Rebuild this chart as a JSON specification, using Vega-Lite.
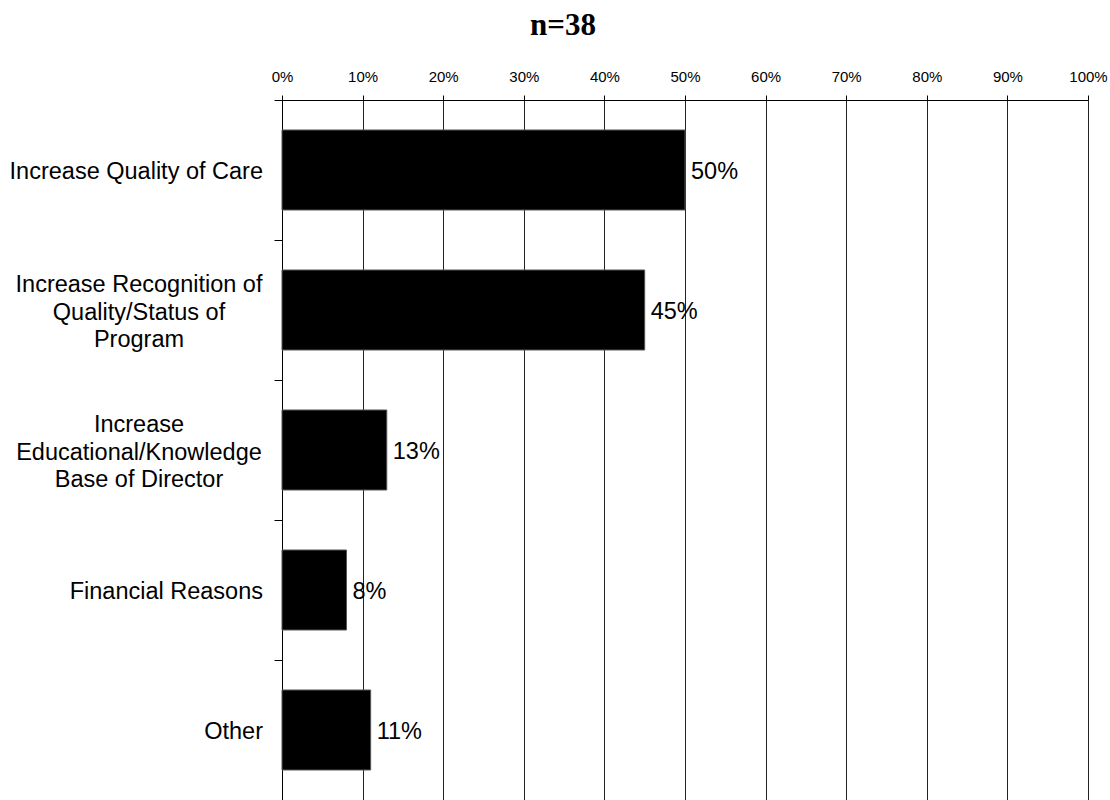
{
  "$schema": "https://vega.github.io/schema/vega-lite/v6.json",
  "width": 806,
  "height": 700,
  "autosize": {"type": "none"},
  "padding": {"left": 282, "top": 100, "right": 22, "bottom": 0},
  "background": "white",
  "title": {
    "text": "n=38",
    "font": "Liberation Serif",
    "fontSize": 31,
    "fontWeight": "bold",
    "color": "black",
    "anchor": "middle",
    "dx": -122,
    "offset": 27
  },
  "data": {
    "values": [
      {"reason": "Increase Quality of Care", "share": 0.50, "lines": 1},
      {"reason": "Increase Recognition of\nQuality/Status of\nProgram", "share": 0.45, "lines": 3},
      {"reason": "Increase\nEducational/Knowledge\nBase of Director", "share": 0.13, "lines": 3},
      {"reason": "Financial Reasons", "share": 0.08, "lines": 1},
      {"reason": "Other", "share": 0.11, "lines": 1}
    ]
  },
  "encoding": {
    "y": {
      "field": "reason",
      "type": "nominal",
      "sort": null,
      "scale": {"paddingInner": 0, "paddingOuter": 0},
      "axis": {
        "title": null,
        "orient": "left",
        "tickBand": "extent",
        "tickSize": 8,
        "tickColor": "black",
        "domainColor": "black",
        "labels": false
      }
    },
    "x": {
      "field": "share",
      "type": "quantitative",
      "scale": {"domain": [0, 1], "nice": false},
      "axis": {
        "title": null,
        "orient": "top",
        "values": [0, 0.1, 0.2, 0.3, 0.4, 0.5, 0.6, 0.7, 0.8, 0.9, 1],
        "format": ".0%",
        "tickSize": 5,
        "tickColor": "black",
        "domainColor": "black",
        "grid": true,
        "gridColor": "#222",
        "gridWidth": 1,
        "labelFont": "Liberation Sans",
        "labelFontSize": 15,
        "labelColor": "black",
        "labelPadding": 11,
        "labelFlush": false
      }
    }
  },
  "layer": [
    {
      "mark": {"type": "bar", "height": {"band": 0.5714}, "fill": "black", "stroke": "#555", "strokeWidth": 1}
    },
    {
      "mark": {"type": "text", "align": "left", "baseline": "middle", "dx": 6, "dy": 2, "font": "Liberation Sans", "fontSize": 23.5, "fill": "black"},
      "encoding": {
        "text": {"field": "share", "type": "quantitative", "format": ".0%"}
      }
    },
    {
      "transform": [{"filter": "datum.lines == 1"}],
      "mark": {"type": "text", "align": "right", "baseline": "middle", "dx": -19, "dy": 2, "font": "Liberation Sans", "fontSize": 23.5, "fill": "black"},
      "encoding": {
        "x": {"datum": 0},
        "text": {"field": "reason", "type": "nominal"}
      }
    },
    {
      "transform": [{"filter": "datum.lines > 1"}],
      "mark": {"type": "text", "align": "center", "baseline": "middle", "dx": -143, "dy": -25, "lineBreak": "\n", "lineHeight": 27.5, "font": "Liberation Sans", "fontSize": 23.5, "fill": "black"},
      "encoding": {
        "x": {"datum": 0},
        "text": {"field": "reason", "type": "nominal"}
      }
    }
  ]
}
